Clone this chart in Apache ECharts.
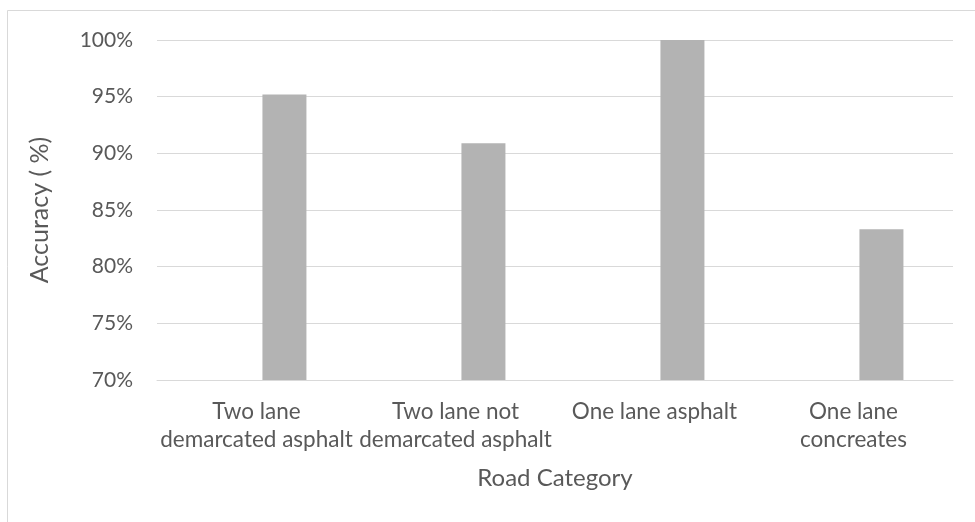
<!DOCTYPE html>
<html>
<head>
<meta charset="utf-8">
<script src="https://cdn.jsdelivr.net/npm/echarts@6/dist/echarts.min.js"></script>
<style>
  html, body { margin: 0; padding: 0; background: #ffffff; }
  #chart { width: 975px; height: 522px; }
</style>
</head>
<body>
<div id="chart"></div>
<script>
// Road categories (tick labels on the category axis)
const categories = [
  'Two lane\ndemarcated asphalt',
  'Two lane not\ndemarcated asphalt',
  'One lane asphalt',
  'One lane\nconcreates'
];
// Detection accuracy per road category, in percent
const accuracy = [95.2, 90.9, 100, 83.3];
// Value axis range and step
const yMin = 70;
const yMax = 100;
const yStep = 5;

const textColor = '#595959';
const lineColor = '#d9d9d9';
const fontFamily = 'Lato, "Open Sans", sans-serif';

const chart = echarts.init(document.getElementById('chart'), null, { renderer: 'canvas' });

chart.setOption({
  animation: false,
  backgroundColor: '#ffffff',
  textStyle: { fontFamily: fontFamily, color: textColor },
  graphic: [{
    type: 'rect',
    shape: { x: 7.5, y: 10.5, width: 1000, height: 600 },
    style: { fill: 'none', stroke: lineColor, lineWidth: 1 },
    silent: true,
    z: -1
  }],
  grid: { left: 157, right: 22, top: 40, bottom: 142 },
  xAxis: {
    type: 'category',
    data: categories,
    name: 'Road Category',
    nameLocation: 'middle',
    nameGap: 86,
    nameTextStyle: { fontSize: 24, color: textColor, fontFamily: fontFamily },
    axisLine: { show: true, lineStyle: { color: lineColor, width: 1 } },
    axisTick: { show: false },
    axisLabel: {
      interval: 0,
      margin: 18,
      fontSize: 22.5,
      lineHeight: 28,
      color: textColor,
      fontFamily: fontFamily,
      align: 'center'
    }
  },
  yAxis: {
    type: 'value',
    min: yMin,
    max: yMax,
    interval: yStep,
    name: 'Accuracy ( %)',
    nameLocation: 'middle',
    nameGap: 105,
    nameRotate: 90,
    nameTextStyle: { fontSize: 25, color: textColor, fontFamily: fontFamily },
    axisLine: { show: false },
    axisTick: { show: false },
    axisLabel: {
      margin: 24,
      fontSize: 21,
      color: textColor,
      fontFamily: fontFamily,
      formatter: v => v + '%'
    },
    splitLine: { show: true, lineStyle: { color: lineColor, width: 1 } }
  },
  series: [
    {
      // empty companion series that holds the left slot of each cluster
      name: 'blank',
      type: 'bar',
      data: categories.map(() => '-'),
      barWidth: 44,
      barGap: '27%'
    },
    {
      name: 'Accuracy',
      type: 'bar',
      data: accuracy,
      barWidth: 44,
      barGap: '27%',
      itemStyle: { color: '#b3b3b3' }
    }
  ]
});
</script>
</body>
</html>
